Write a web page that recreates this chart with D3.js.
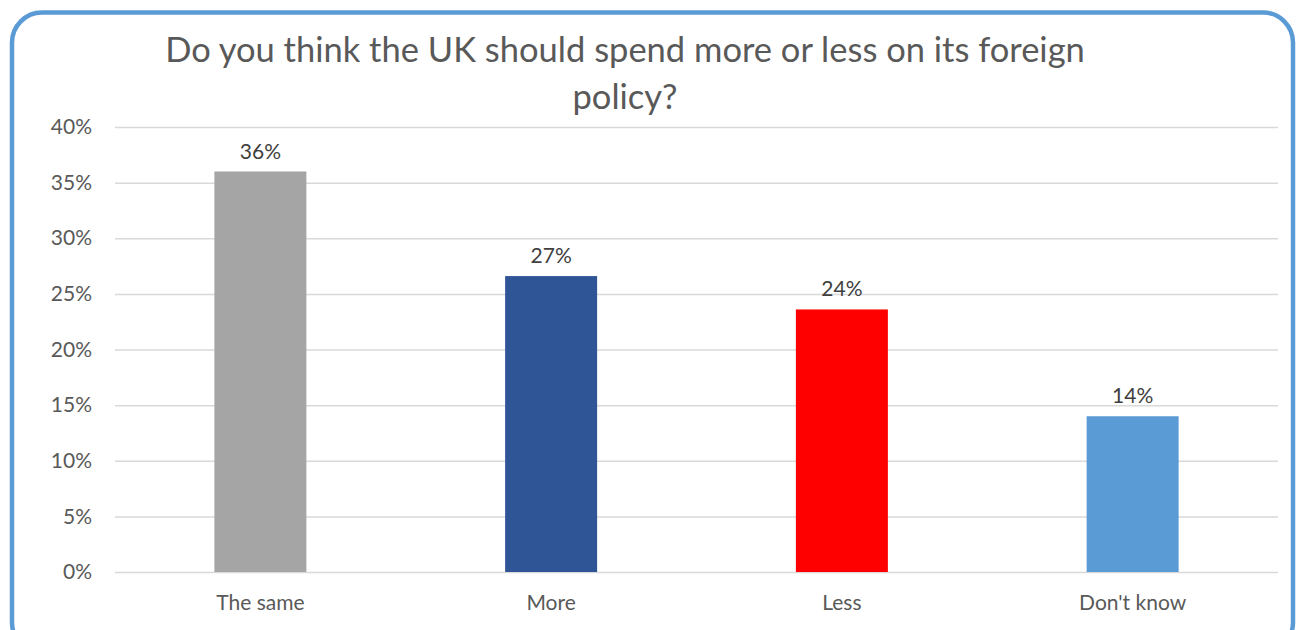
<!DOCTYPE html>
<html><head><meta charset="utf-8">
<script src="https://cdn.jsdelivr.net/npm/d3@7"></script>
<style>html,body{margin:0;padding:0;background:#fff;overflow:hidden}</style>
</head><body>
<svg id="chart" width="1296" height="630"></svg>
<script>
const categories = ["The same", "More", "Less", "Don't know"];
const values = [0.36, 0.266, 0.236, 0.14];
const barColors = ["#A5A5A5", "#2F5597", "#FF0000", "#5B9BD5"];
const yTicks = [0, 0.05, 0.10, 0.15, 0.20, 0.25, 0.30, 0.35, 0.40];
const titleLines = ["Do you think the UK should spend more or less on its foreign", "policy?"];

const FONT = "Lato, 'Open Sans', sans-serif";
const svg = d3.select("#chart");

svg.append("rect").attr("x", 12).attr("y", 12.5).attr("width", 1281).attr("height", 640)
  .attr("rx", 30).attr("ry", 30).attr("fill", "#fff").attr("stroke", "#5B9BD5").attr("stroke-width", 4.5);

const x = d3.scaleBand().domain(categories).range([115, 1278]).paddingInner(0.6836).paddingOuter(0.3418);
const y = d3.scaleLinear().domain([0, 0.4]).range([572, 127]);

// gridlines
const yAxis = d3.axisLeft(y).tickValues(yTicks).tickFormat(d3.format(".0%")).tickSize(-(1278 - 115)).tickPadding(23);
const gy = svg.append("g").attr("transform", "translate(115,0)").call(yAxis);
gy.select(".domain").remove();
gy.selectAll(".tick line").attr("stroke", "#D9D9D9").attr("stroke-width", 1.5);
gy.selectAll(".tick text").attr("fill", "#595959").style("font-family", FONT).style("font-size", "21px");

// x axis labels
const xAxis = d3.axisBottom(x).tickSize(0).tickPadding(23);
const gx = svg.append("g").attr("transform", "translate(0,572)").call(xAxis);
gx.select(".domain").remove();
gx.selectAll(".tick text").attr("fill", "#595959").style("font-family", FONT).style("font-size", "21px");

// bars
svg.append("g").selectAll("rect").data(categories).join("rect")
  .attr("x", d => x(d)).attr("width", x.bandwidth())
  .attr("y", (d, i) => y(values[i])).attr("height", (d, i) => y(0) - y(values[i]))
  .attr("fill", (d, i) => barColors[i]);

// value labels
svg.append("g").selectAll("text").data(categories).join("text")
  .attr("x", d => x(d) + x.bandwidth() / 2).attr("y", (d, i) => y(values[i]) - 13)
  .attr("text-anchor", "middle").attr("fill", "#404040")
  .style("font-family", FONT).style("font-size", "21px")
  .text((d, i) => d3.format(".0%")(values[i]));

// title
svg.append("g").selectAll("text").data(titleLines).join("text")
  .attr("x", 625).attr("y", (d, i) => 62 + i * 47)
  .attr("text-anchor", "middle").attr("fill", "#595959")
  .style("font-family", FONT).style("font-size", "34.5px")
  .text(d => d);
</script>
</body></html>
